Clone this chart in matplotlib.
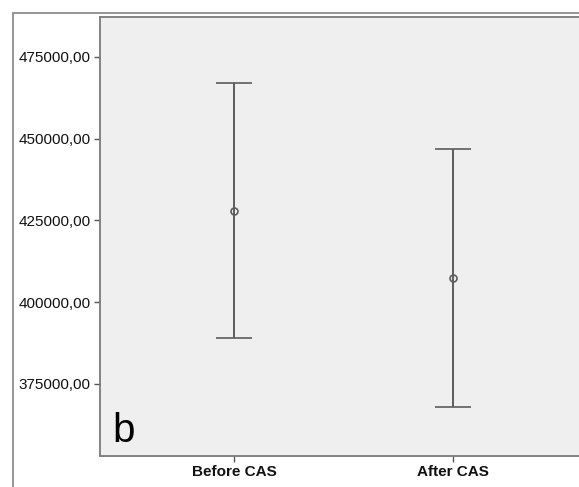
import matplotlib
matplotlib.use("Agg")
import matplotlib.pyplot as plt
from matplotlib.patches import Rectangle
from matplotlib.ticker import FuncFormatter

# data (mean and 95% CI bounds)
groups = ["Before CAS", "After CAS"]
means = [428000, 407500]
upper = [467000, 447000]
lower = [389000, 368000]
yticks = [375000, 400000, 425000, 450000, 475000]

plt.rcParams["font.family"] = ["Liberation Sans", "DejaVu Sans"]

fig = plt.figure(figsize=(5.79, 4.87), dpi=100)

# outer frame of the SPSS chart
frame = Rectangle((13 / 579, -0.1), 1.2, 1.1 - 13 / 487,
                  transform=fig.transFigure, fill=False,
                  edgecolor="#8c8c8c", linewidth=1.3)
fig.patches.append(frame)

ax = fig.add_axes([100 / 579, 1 - 455.7 / 487, 487 / 579, (455.7 - 17.3) / 487])
ax.set_facecolor("#efefef")

xs = [1, 2]
err_low = [m - l for m, l in zip(means, lower)]
err_up = [u - m for u, m in zip(upper, means)]
ax.errorbar(xs, means, yerr=[err_low, err_up], fmt="o", color="#5c5c5c",
            ecolor="#5c5c5c", elinewidth=1.4, capsize=13, capthick=1.4,
            markersize=5, markerfacecolor="none", markeredgewidth=1.2)

ax.set_xlim(1 - 134 / 219, 2 + 134 / 219)
ax.set_ylim(353070, 487140)
ax.set_yticks(yticks)
ax.yaxis.set_major_formatter(FuncFormatter(lambda v, p: f"{v:.2f}".replace(".", ",")))
ax.set_xticks(xs)
ax.set_xticklabels(groups, fontweight="bold")

for s in ax.spines.values():
    s.set_color("#7a7a7a")
    s.set_linewidth(1.3)

ax.tick_params(axis="both", length=4, width=1, color="#555555",
               labelsize=11, labelcolor="#111111", pad=3)

ax.text(112, 487 - 442, "b", transform=None, fontsize=29, color="black",
        va="baseline", ha="left")

fig.savefig("out.png", dpi=100)
